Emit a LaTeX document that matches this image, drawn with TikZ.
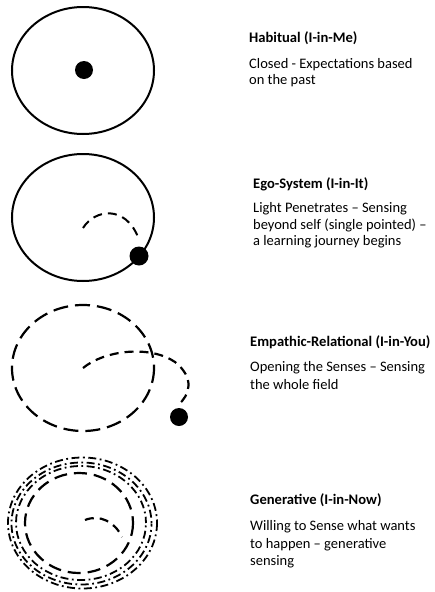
\documentclass[tikz,border=0pt]{standalone}
\usepackage{fontspec}
\setmainfont{Carlito}
\begin{document}
\begin{tikzpicture}[x=1pt,y=-1pt,
  ring/.style={line width=2pt},
  dot/.style={fill=black},
  ttl/.style={anchor=base west,inner sep=0pt,font=\bfseries\fontsize{14.6}{17.5}\selectfont},
  body/.style={anchor=base west,inner sep=0pt,font=\fontsize{14.5}{17.5}\selectfont},
  longdash/.style={line width=2.2pt,dash pattern=on 15pt off 7pt},
  shortdash/.style={line width=2.2pt,dash pattern=on 9pt off 6pt},
  dashdot/.style={line width=1.8pt,dash pattern=on 8pt off 3.5pt on 1.8pt off 3.5pt}]
\useasboundingbox[fill=white] (0,0) rectangle (434,592);

% Panel 1
\draw[ring] (83,70.5) ellipse (71 and 63.5);
\fill[dot] (84,70) circle (9);
\node[ttl] (t1) at (249,42) {Habitual (I-in-Me)};
\node[body] (b1a) at (249,68) {Closed - Expectations based};
\node[body] (b1b) at (249,84.5) {on the past};

% Panel 2
\draw[ring] (83,217.5) ellipse (71 and 63.5);
\draw[shortdash,line width=2pt] (83,228) .. controls (95,209) and (125,205) .. (138,237);
\fill[dot] (139,256) circle (9.5);
\node[ttl] (t2) at (253,188.5) {Ego-System (I-in-It)};
\node[body] (b2a) at (253,212.5) {Light Penetrates -- Sensing};
\node[body] (b2b) at (253,229) {beyond self (single pointed) --};
\node[body] (b2c) at (253,245.5) {a learning journey begins};

% Panel 3
\draw[longdash] (83,368) ellipse (71 and 63);
\draw[shortdash] (83,368) .. controls (105,350) and (150,345) .. (175,362) .. controls (195,378) and (190,395) .. (178,405);
\fill[dot] (179,417) circle (9);
\node[ttl] (t3) at (250,346) {Empathic-Relational (I-in-You)};
\node[body] (b3a) at (250,371.5) {Opening the Senses -- Sensing};
\node[body] (b3b) at (250,389) {the whole field};

% Panel 4
\draw[dashdot] (82.5,523) ellipse (74.5 and 65.5);
\draw[dashdot,dash phase=5pt] (81.5,523.5) ellipse (70 and 61);
\draw[dashdot,dash phase=9pt] (81,523) ellipse (65 and 57);
\draw[line width=2.2pt,dash pattern=on 13pt off 7pt] (79,523) ellipse (54 and 50);
\draw[shortdash] (85,520) .. controls (100,514) and (115,522) .. (122,537);
\node[ttl] (t4) at (250,504) {Generative (I-in-Now)};
\node[body] (b4a) at (250,530) {Willing to Sense what wants};
\node[body] (b4b) at (250,548) {to happen -- generative};
\node[body] (b4c) at (250,565.5) {sensing};
\end{tikzpicture}
\end{document}
